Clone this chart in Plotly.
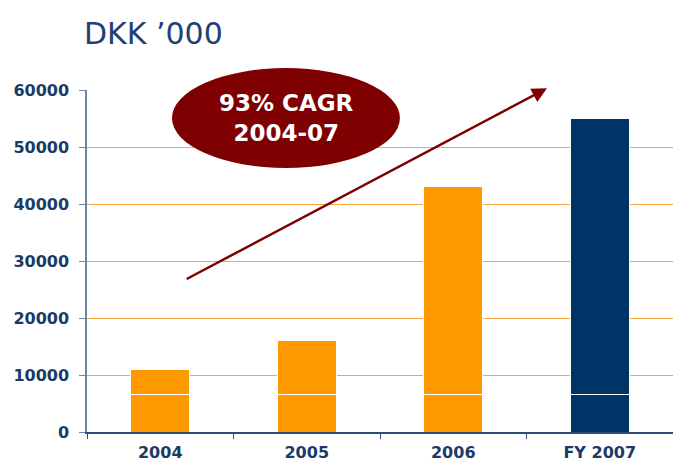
import plotly.graph_objects as go

categories = ["2004", "2005", "2006", "FY 2007"]
totals = [11000, 16000, 43000, 55000]
base_segment = [6500, 6500, 6500, 6500]
bar_colors = ["#FF9900", "#FF9900", "#FF9900", "#003366"]
y_ticks = [0, 10000, 20000, 30000, 40000, 50000, 60000]

upper_segment = [t - b for t, b in zip(totals, base_segment)]

NAVY = "#1A3B66"
FONT = "DejaVu Sans"

fig = go.Figure()
fig.add_trace(go.Bar(x=categories, y=base_segment, marker=dict(color=bar_colors, line=dict(color="white", width=1)),
                     width=0.4, showlegend=False))
fig.add_trace(go.Bar(x=categories, y=upper_segment, marker=dict(color=bar_colors, line=dict(color="white", width=1)),
                     width=0.4, showlegend=False))

fig.update_layout(
    barmode="stack",
    width=673, height=466,
    margin=dict(l=87, r=0, t=90, b=34),
    paper_bgcolor="white", plot_bgcolor="white",
    font=dict(family=FONT, color=NAVY),
    xaxis=dict(
        showgrid=False, showline=True, linecolor="#2E4D78", linewidth=1.5,
        ticks="outside", tickson="boundaries", ticklen=5, tickcolor="#2E4D78",
        tickfont=dict(family=FONT, size=16, color=NAVY, weight="bold"),
        ticklabelstandoff=5,
    ),
    yaxis=dict(
        range=[0, 60000], tickvals=y_ticks, ticktext=[str(v) for v in y_ticks],
        showgrid=True, gridcolor="#F9A640", gridwidth=1,
        zeroline=False, showline=True, linecolor="#6F86A6", linewidth=1.5,
        ticks="outside", ticklen=6, tickcolor="#6F86A6",
        tickfont=dict(family=FONT, size=16, color=NAVY, weight="bold"),
        ticklabelstandoff=7,
    ),
    bargap=0.6,
)

# Title
fig.add_annotation(text="DKK \u2019000", xref="paper", yref="paper", x=-0.008, y=1.164,
                   xanchor="left", yanchor="middle", showarrow=False,
                   font=dict(family=FONT, size=30, color="#1F4274"))

# Arrow
fig.add_annotation(x=2.64, y=60300, ax=0.17, ay=26700, xref="x", yref="y", axref="x", ayref="y",
                   text="", showarrow=True, arrowhead=2, arrowsize=1.2, arrowwidth=2.5,
                   arrowcolor="#7F0000")

# Ellipse
fig.add_shape(type="circle", xref="paper", yref="paper", x0=0.145, x1=0.534, y0=0.772, y1=1.064,
              fillcolor="#7F0000", line=dict(width=0), layer="above")
fig.add_annotation(text="93% CAGR<br>2004-07", xref="paper", yref="paper", x=0.34, y=0.918,
                   xanchor="center", yanchor="middle", showarrow=False,
                   font=dict(family=FONT, size=23, color="white", weight="bold"))

fig.write_html("out.html", config={"displayModeBar": False},
               post_script="document.body.style.margin='0';")
